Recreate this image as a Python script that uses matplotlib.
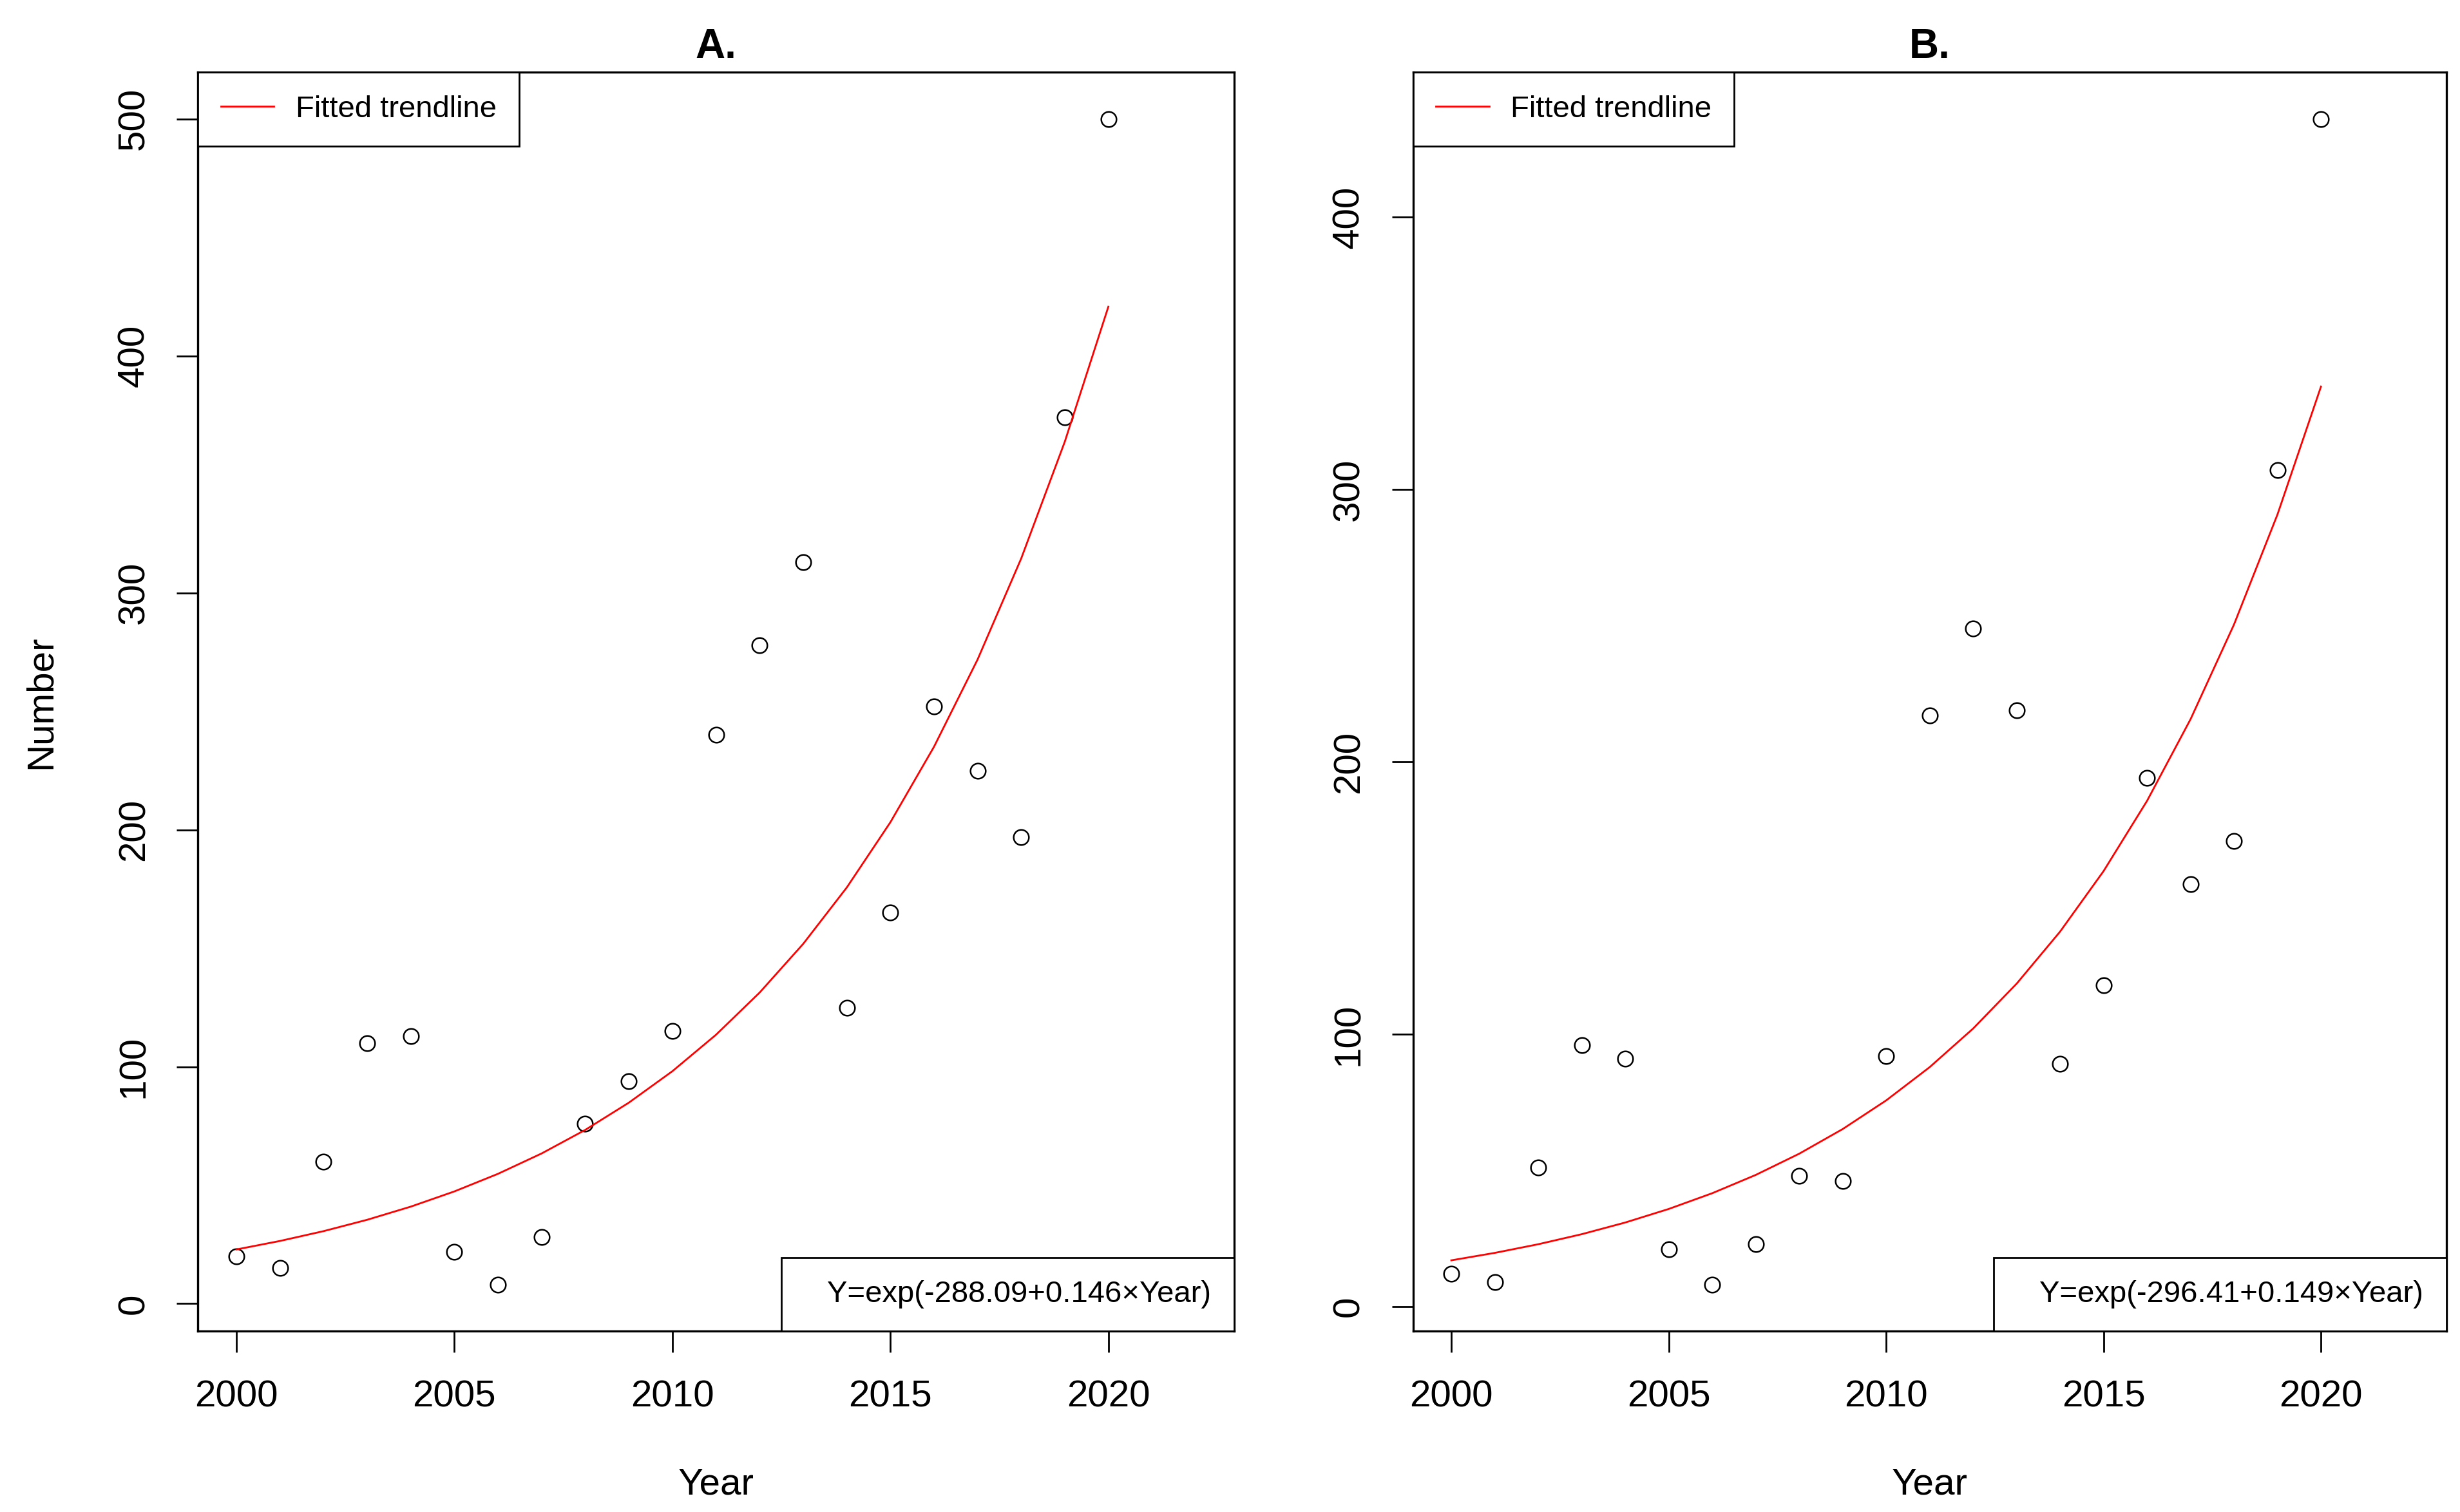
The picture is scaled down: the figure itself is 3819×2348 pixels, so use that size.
import matplotlib
matplotlib.use('Agg')

import matplotlib.pyplot as plt
from matplotlib.lines import Line2D
import numpy as np

plt.rcParams['font.family'] = ['Liberation Sans', 'DejaVu Sans']

years = np.arange(2000, 2021)

# panel A counts
numA = [20, 15, 60, 110, 113, 22, 8, 28, 76, 94, 115,
        240, 278, 313, 125, 165, 252, 225, 197, 374, 500]
# panel B counts
numB = [12, 9, 51, 96, 91, 21, 8, 23, 48, 46, 92,
        217, 249, 219, 89, 118, 194, 155, 171, 307, 436]

# fitted model Y = exp(a + b*Year)
fitA = (-288.09, 0.14561)
fitB = (-296.41, 0.14962)
eqA = "Y=exp(-288.09+0.146\u00d7Year)"
eqB = "Y=exp(-296.41+0.149\u00d7Year)"

yticksA = [0, 100, 200, 300, 400, 500]
yticksB = [0, 100, 200, 300, 400]

fig = plt.figure(figsize=(38.19, 23.48), dpi=100)
axA = fig.add_axes([0.0805, 0.1195, 0.4211, 0.8326])
axB = fig.add_axes([0.5744, 0.1195, 0.4200, 0.8326])

panels = [(axA, numA, fitA, eqA, yticksA, "A."), (axB, numB, fitB, eqB, yticksB, "B.")]

for ax, num, fit, eq, yt, title in panels:
    trend = np.exp(fit[0] + fit[1] * years)
    ax.plot(years, num, linestyle='none', marker='o', markersize=17,
            markerfacecolor='none', markeredgecolor='black', markeredgewidth=1.8)
    ax.plot(years, trend, color='red', linewidth=2.0)

    # R style axis extents (4% padding)
    lo, hi = min(num), max(num)
    pad = 0.04 * (hi - lo)
    ax.set_ylim(lo - pad, hi + pad)
    ax.set_xlim(2000 - 0.04 * 22, 2022 + 0.04 * 22)

    ax.set_xticks([2000, 2005, 2010, 2015, 2020])
    ax.set_yticks(yt)
    ax.tick_params(axis='both', labelsize=42, length=24, width=2, color='black')
    ax.tick_params(axis='x', pad=30)
    ax.tick_params(axis='y', pad=28)
    for lab in ax.get_yticklabels():
        lab.set_rotation(90)
        lab.set_va('center')
        lab.set_ha('right')
    for sp in ax.spines.values():
        sp.set_linewidth(2.4)

    ax.set_title(title, fontsize=46, fontweight='bold', pad=16)
    ax.set_xlabel("Year", fontsize=42)
    ax.xaxis.set_label_coords(0.5, -0.108)

    leg1 = ax.legend([Line2D([], [], color='red', linewidth=2.0)], ["Fitted trendline"],
                     loc='upper left', borderaxespad=0, fancybox=False, edgecolor='black',
                     framealpha=1, fontsize=34, handlelength=1.75, handletextpad=0.7,
                     borderpad=0.75)
    leg1.get_frame().set_linewidth(2.0)
    ax.add_artist(leg1)

    leg2 = ax.legend([Line2D([], [], color='none')], [eq],
                     loc='lower right', borderaxespad=0, fancybox=False, edgecolor='black',
                     framealpha=1, fontsize=34, handlelength=0.55, handletextpad=0.2,
                     borderpad=0.75)
    leg2.get_frame().set_linewidth(2.0)

axA.set_ylabel("Number", fontsize=42)
axA.yaxis.set_label_coords(-0.135, 0.5)

fig.savefig("out.png", dpi=100, facecolor='white')
